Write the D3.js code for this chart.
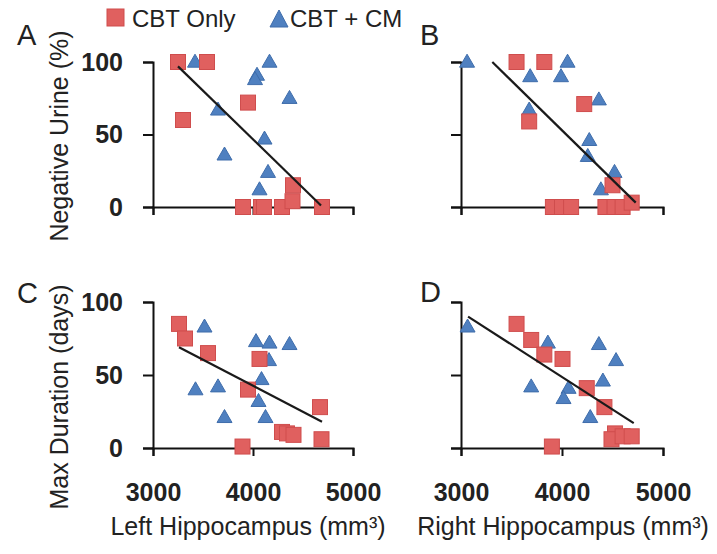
<!DOCTYPE html>
<html>
<head>
<meta charset="utf-8">
<script src="https://cdn.jsdelivr.net/npm/d3@7"></script>
<style>
  html, body { margin: 0; padding: 0; background: #fff; }
  svg { display: block; font-family: "Liberation Sans", Arial, sans-serif; }
</style>
</head>
<body>
<svg id="chart" width="717" height="554"></svg>
<script>
// ---- data ----
const seriesNames = ["CBT Only", "CBT + CM"];
const xTicks = [3000, 4000, 5000];
const yTicks = [0, 50, 100];
const panelLabels = ["A", "B", "C", "D"];
const yTitles = ["Negative Urine (%)", "Max Duration (days)"];
const xTitles = ["Left Hippocampus (mm³)", "Right Hippocampus (mm³)"];

// Panel A: Left hippocampus vs Negative urine (%)
const cbtOnlyA = [[3250,100],[3540,100],[3300,60],[3950,72],[4400,15],[3900,0],[4080,0],[4110,0],[4290,0],[4395,4],[4690,0]];
const cbtCmA   = [[3420,100],[4165,100],[4040,91],[4020,88],[4365,75],[3650,67],[4115,47],[3715,36],[4150,24],[4065,12]];
const fitA     = [[3250,97],[4680,1]];
// Panel B: Right hippocampus vs Negative urine (%)
const cbtOnlyB = [[3550,100],[3825,100],[4220,71],[3675,59],[4500,15],[3910,0],[4000,0],[4090,0],[4430,0],[4520,0],[4600,0],[4690,3]];
const cbtCmB   = [[3060,100],[4055,100],[3685,90],[3990,90],[4365,74],[3675,67],[4270,46],[4255,35],[4520,24],[4385,12]];
const fitB     = [[3310,100],[4730,3]];
// Panel C: Left hippocampus vs Max duration (days)
const cbtOnlyC = [[3260,85],[3320,75],[3550,65],[4065,61],[3950,40],[4670,28],[4290,11],[4340,10],[4405,9],[4685,6],[3895,1]];
const cbtCmC   = [[3515,83],[4030,73],[4165,72],[4365,71],[4160,60],[4085,47],[3425,40],[3650,42],[4055,32],[3715,21],[4125,21]];
const fitC     = [[3260,69],[4690,18]];
// Panel D: Right hippocampus vs Max duration (days)
const cbtOnlyD = [[3550,85],[3695,74],[3825,64],[4005,61],[4245,41],[4420,28],[4525,10],[4490,6],[4600,8],[4690,8],[3900,1]];
const cbtCmD   = [[3065,83],[3860,72],[4365,71],[4535,60],[4405,46],[3695,42],[4065,41],[4015,34],[4280,21]];
const fitD     = [[3070,90],[4710,17]];

// ---- layout ----
const svg = d3.select("#chart");
const RED_FILL = "#e0605f", RED_STROKE = "#cf4d4d";
const BLUE_FILL = "#4f80c0", BLUE_STROKE = "#3f6dab";

const cols = [[153, 353], [461, 663]];
const rows = [[207, 62], [448, 302]];

const panels = [
  {label: panelLabels[0], col: 0, row: 0, red: cbtOnlyA, blue: cbtCmA, fit: fitA, lx: 17, ly: 45},
  {label: panelLabels[1], col: 1, row: 0, red: cbtOnlyB, blue: cbtCmB, fit: fitB, lx: 420, ly: 45},
  {label: panelLabels[2], col: 0, row: 1, red: cbtOnlyC, blue: cbtCmC, fit: fitC, lx: 17, ly: 303},
  {label: panelLabels[3], col: 1, row: 1, red: cbtOnlyD, blue: cbtCmD, fit: fitD, lx: 420, ly: 302}
];

const sq = 15, triW = 15, triH = 13;
const triPath = `M0,${-triH*0.6}L${triW/2},${triH*0.4}L${-triW/2},${triH*0.4}Z`;

panels.forEach(p => {
  const x = d3.scaleLinear().domain([3000, 5000]).range(cols[p.col]);
  const y = d3.scaleLinear().domain([0, 100]).range(rows[p.row]);
  const g = svg.append("g");

  // axes
  const yAxis = d3.axisLeft(y).tickValues(yTicks).tickSize(10).tickPadding(20)
    .tickFormat(p.col === 0 ? d3.format("d") : () => "");
  const xAxis = d3.axisBottom(x).tickValues(xTicks).tickSize(8).tickPadding(27)
    .tickFormat(p.row === 1 ? d3.format("d") : () => "");

  const ga = g.append("g").attr("transform", `translate(${x(3000)},0)`).call(yAxis);
  const gb = g.append("g").attr("transform", `translate(0,${y(0)})`).call(xAxis);
  [ga, gb].forEach(a => {
    a.selectAll("path, line").attr("stroke", "#111").attr("stroke-width", 2);
    a.selectAll("text").attr("fill", "#222").attr("font-size", 25)
      .attr("font-weight", "bold").attr("font-family", "'Liberation Sans', Arial, sans-serif");
  });

  // blue triangles (behind)
  g.selectAll(".tri").data(p.blue).enter().append("path")
    .attr("d", triPath)
    .attr("transform", d => `translate(${x(d[0])},${y(d[1])})`)
    .attr("fill", BLUE_FILL).attr("stroke", BLUE_STROKE).attr("stroke-width", 1);
  // red squares
  g.selectAll(".sq").data(p.red).enter().append("rect")
    .attr("x", d => x(d[0]) - sq/2).attr("y", d => y(d[1]) - sq/2)
    .attr("width", sq).attr("height", sq)
    .attr("fill", RED_FILL).attr("stroke", RED_STROKE).attr("stroke-width", 1);
  // fit line
  g.append("path").datum(p.fit)
    .attr("d", d3.line().x(d => x(d[0])).y(d => y(d[1])))
    .attr("stroke", "#1a1a1a").attr("stroke-width", 2.2).attr("fill", "none");

  // panel letter
  svg.append("text").attr("x", p.lx).attr("y", p.ly)
    .attr("font-size", 29).attr("fill", "#222").text(p.label);
});

// y titles
[[136, yTitles[0]], [397, yTitles[1]]].forEach(([cy, t]) => {
  svg.append("text").attr("transform", `translate(68,${cy}) rotate(-90)`)
    .attr("text-anchor", "middle").attr("font-size", 25).attr("fill", "#222").text(t);
});
// x titles
[[248, xTitles[0]], [563, xTitles[1]]].forEach(([cx, t]) => {
  svg.append("text").attr("x", cx).attr("y", 535)
    .attr("text-anchor", "middle").attr("font-size", 25).attr("fill", "#222").text(t);
});

// legend
const leg = svg.append("g");
leg.append("rect").attr("x", 107).attr("y", 9).attr("width", 17).attr("height", 17)
  .attr("fill", RED_FILL).attr("stroke", RED_STROKE);
leg.append("text").attr("x", 132).attr("y", 27).attr("font-size", 24).attr("fill", "#222").text(seriesNames[0]);
leg.append("path").attr("d", `M279,10L288,27L270,27Z`)
  .attr("fill", BLUE_FILL).attr("stroke", BLUE_STROKE);
leg.append("text").attr("x", 290).attr("y", 27).attr("font-size", 24).attr("fill", "#222").text(seriesNames[1]);
</script>
</body>
</html>
